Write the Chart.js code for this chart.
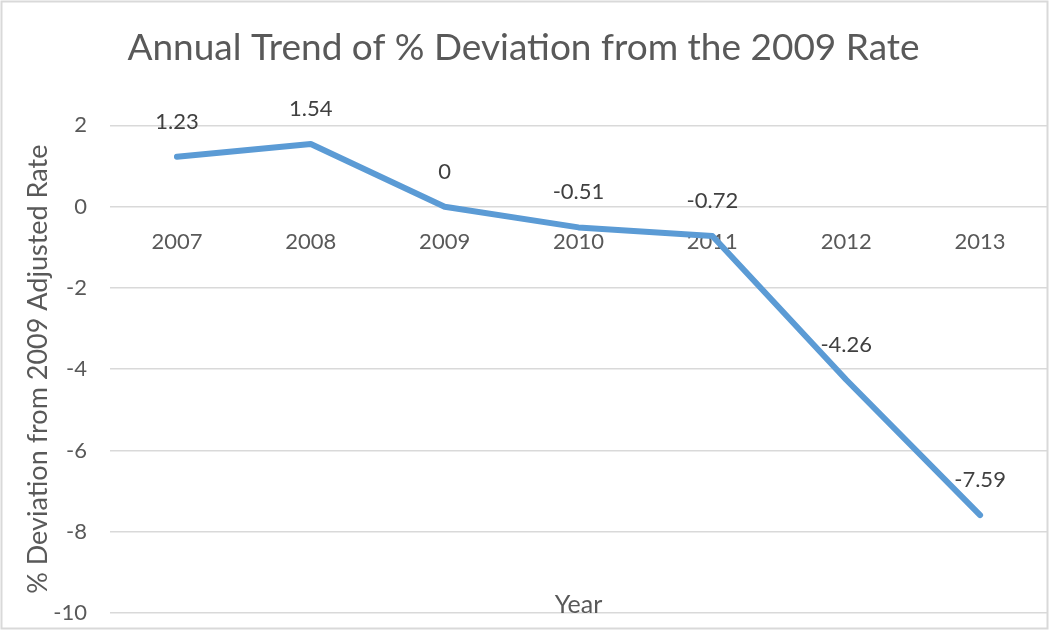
<!DOCTYPE html>
<html>
<head>
<meta charset="utf-8">
<script src="https://cdn.jsdelivr.net/npm/chart.js@4.4.1/dist/chart.umd.min.js"></script>
<style>
  html, body { margin: 0; padding: 0; background: #ffffff; }
  #wrap { width: 1050px; height: 631px; }
</style>
</head>
<body>
<div id="wrap"><canvas id="chart" width="1050" height="631"></canvas></div>
<script>
// data
const years = ["2007", "2008", "2009", "2010", "2011", "2012", "2013"];
const deviation = [1.23, 1.54, 0, -0.51, -0.72, -4.26, -7.59];
const yMin = -10;
const yMax = 2;
const yStep = 2;

const FONT = "Lato, 'Open Sans', sans-serif";
const GREY_TEXT = "#595959";
const GRID = "#d9d9d9";

// outer frame of the chart, like the Excel chart border
const framePlugin = {
  id: "frame",
  beforeDraw(chart) {
    const ctx = chart.ctx;
    ctx.save();
    ctx.fillStyle = "#ffffff";
    ctx.fillRect(0, 0, chart.width, chart.height);
    ctx.strokeStyle = GRID;
    ctx.lineWidth = 2;
    ctx.strokeRect(1.5, 1.5, chart.width - 4, chart.height - 4);
    ctx.restore();
  },
};

// value labels above every point
const valueLabelPlugin = {
  id: "valueLabels",
  afterDatasetsDraw(chart) {
    const ctx = chart.ctx;
    const meta = chart.getDatasetMeta(0);
    ctx.save();
    ctx.font = "22px " + FONT;
    ctx.fillStyle = "#404040";
    ctx.textAlign = "center";
    ctx.textBaseline = "middle";
    meta.data.forEach((pt, i) => {
      ctx.fillText(String(deviation[i]), pt.x, pt.y - 35);
    });
    ctx.restore();
  },
};

// "Year" axis title sits at the bottom of the plot area
const yearTitlePlugin = {
  id: "yearTitle",
  afterDraw(chart) {
    const { ctx, chartArea } = chart;
    ctx.save();
    ctx.font = "25px " + FONT;
    ctx.fillStyle = GREY_TEXT;
    ctx.textAlign = "center";
    ctx.textBaseline = "middle";
    ctx.fillText("Year", (chartArea.left + chartArea.right) / 2, chartArea.bottom - 8);
    ctx.restore();
  },
};

new Chart(document.getElementById("chart").getContext("2d"), {
  type: "line",
  data: {
    labels: years,
    datasets: [
      {
        data: deviation,
        borderColor: "#5b9bd5",
        borderWidth: 6,
        borderCapStyle: "round",
        borderJoinStyle: "round",
        pointRadius: 0,
        tension: 0,
        fill: false,
      },
    ],
  },
  options: {
    responsive: false,
    animation: false,
    devicePixelRatio: 1,
    layout: { padding: { left: 0, right: 3, top: 0, bottom: 18 } },
    plugins: {
      legend: { display: false },
      tooltip: { enabled: false },
      title: {
        display: true,
        text: "Annual Trend of % Deviation from the 2009 Rate",
        color: GREY_TEXT,
        font: { family: FONT, size: 37, weight: "normal" },
        padding: { top: 26, bottom: 55 },
      },
    },
    scales: {
      x: {
        type: "category",
        position: { y: 0 },
        offset: true,
        grid: { display: false, drawTicks: false },
        border: { display: false },
        ticks: {
          color: GREY_TEXT,
          font: { family: FONT, size: 22 },
          padding: 22,
          maxRotation: 0,
        },
      },
      y: {
        min: yMin,
        max: yMax,
        ticks: {
          stepSize: yStep,
          color: GREY_TEXT,
          font: { family: FONT, size: 22 },
          padding: 23,
        },
        grid: { color: GRID, lineWidth: 1.5, drawTicks: false },
        border: { display: false },
        title: {
          display: true,
          text: "% Deviation from 2009 Adjusted Rate",
          color: GREY_TEXT,
          font: { family: FONT, size: 27 },
          padding: { top: 22, bottom: 0 },
        },
        afterFit(scale) {
          scale.width = 110;
          scale.paddingTop = 0;
          scale.paddingBottom = 0;
        },
      },
    },
  },
  plugins: [framePlugin, valueLabelPlugin, yearTitlePlugin],
});
</script>
</body>
</html>
